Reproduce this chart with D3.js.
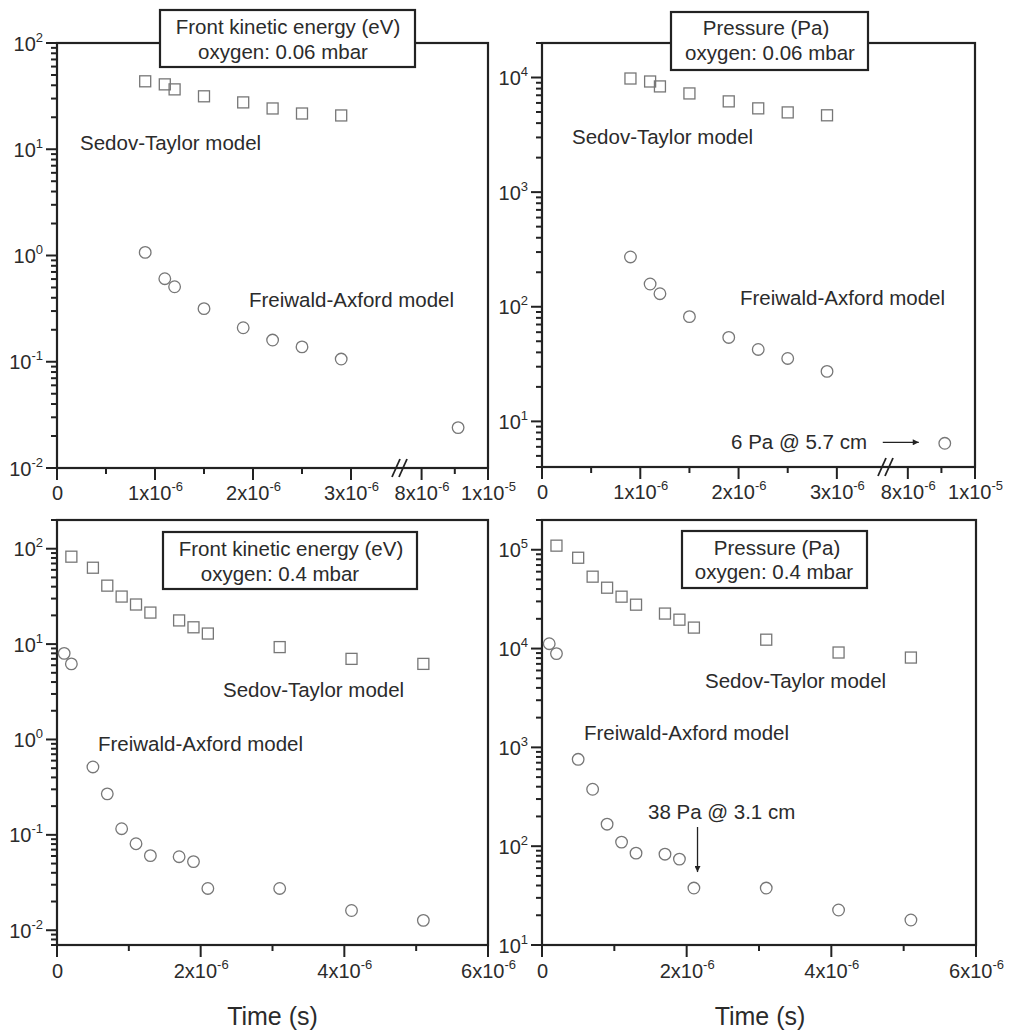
<!DOCTYPE html>
<html>
<head>
<meta charset="utf-8">
<script src="https://cdnjs.cloudflare.com/ajax/libs/d3/7.8.5/d3.min.js"></script>
<style>
body { margin: 0; background: #fff; }
svg text { font-family: "Liberation Sans", Arial, sans-serif; fill: #2b2b2b; }
</style>
</head>
<body>
<svg width="1013" height="1031"></svg>
<script>
var svg = d3.select('svg');

// time values in units of 1e-6 s
var tTopST = [0.9, 1.1, 1.2, 1.5, 1.9, 2.2, 2.5, 2.9];
var tTopFA = [0.9, 1.1, 1.2, 1.5, 1.9, 2.2, 2.5, 2.9, 9.1];
var tBotST = [0.2, 0.5, 0.7, 0.9, 1.1, 1.3, 1.7, 1.9, 2.1, 3.1, 4.1, 5.1];
var tBotFA = [0.1, 0.2, 0.5, 0.7, 0.9, 1.1, 1.3, 1.7, 1.9, 2.1, 3.1, 4.1, 5.1];

// front kinetic energy (eV)
var keTopST = [43.6, 40.8, 36.6, 31.5, 27.6, 24.2, 21.7, 20.8];
var keTopFA = [1.07, 0.605, 0.508, 0.316, 0.209, 0.16, 0.138, 0.106, 0.024];
var keBotST = [82.5, 63.2, 41, 31.5, 26, 21.4, 17.7, 15, 12.9, 9.3, 7.0, 6.2];
var keBotFA = [8.0, 6.2, 0.515, 0.269, 0.116, 0.0807, 0.0605, 0.059, 0.0524, 0.0274, 0.0274, 0.0161, 0.0127];

// pressure (Pa)
var pTopST = [9800, 9230, 8360, 7260, 6190, 5380, 4960, 4680];
var pTopFA = [272, 158, 130, 82, 54, 42.4, 35.4, 27.3, 6.44];
var pBotST = [110000, 83000, 53400, 41300, 33500, 27800, 22600, 19600, 16300, 12300, 9120, 8110];
var pBotFA = [11200, 8890, 757, 377, 167, 110, 85, 83, 74, 37.7, 37.7, 22.6, 17.9];

var titleKE = 'Front kinetic energy (eV)';
var titleP = 'Pressure (Pa)';

var markColor = '#777';
var lineColor = '#222';

svg.append('defs').append('marker')
    .attr('id', 'arrow')
    .attr('viewBox', '0 0 10 10')
    .attr('refX', 10).attr('refY', 5)
    .attr('markerWidth', 9).attr('markerHeight', 6)
    .attr('markerUnits', 'userSpaceOnUse')
    .attr('orient', 'auto')
  .append('path')
    .attr('d', 'M0,0 L10,5 L0,10 z')
    .attr('fill', '#222');

var panels = [
  { left: 57, right: 488, top: 43, bottom: 468, brk: 400,
    yDomain: [0.01, 100], yMajors: [-2, -1, 0, 1, 2],
    st: [tTopST, keTopST], fa: [tTopFA, keTopFA],
    box: [160, 10, 255, 57], lines: [[titleKE, 288, 34], ['oxygen: 0.06 mbar', 283, 59]],
    stLabel: [80, 150], faLabel: [249, 307] },
  { left: 542, right: 975, top: 43, bottom: 467, brk: 886,
    yDomain: [4, 20000], yMajors: [1, 2, 3, 4],
    st: [tTopST, pTopST], fa: [tTopFA, pTopFA],
    box: [671, 12, 197, 58], lines: [[titleP, 766, 35], ['oxygen: 0.06 mbar', 770, 60]],
    stLabel: [572, 144], faLabel: [740, 305] },
  { left: 57, right: 488, top: 520, bottom: 945, brk: null,
    yDomain: [0.007, 200], yMajors: [-2, -1, 0, 1, 2],
    st: [tBotST, keBotST], fa: [tBotFA, keBotFA],
    box: [163, 532, 254, 57], lines: [[titleKE, 291, 556], ['oxygen: 0.4 mbar', 280, 581]],
    stLabel: [223, 697], faLabel: [98, 751] },
  { left: 542, right: 976, top: 520, bottom: 945, brk: null,
    yDomain: [10, 200000], yMajors: [1, 2, 3, 4, 5],
    st: [tBotST, pBotST], fa: [tBotFA, pBotFA],
    box: [682, 531, 185, 57], lines: [[titleP, 777, 555], ['oxygen: 0.4 mbar', 774, 579]],
    stLabel: [705, 688], faLabel: [584, 740] }
];

// label with a superscript part
function supText(sel, base, sup) {
    sel.text(null);
    sel.append('tspan').text(base);
    if (sup) sel.append('tspan').attr('dy', -9).attr('font-size', 13).text(sup);
}

function xLabel(v) {
    if (v == 0) return ['0', null];
    if (v == 10) return ['1x10', '-5'];
    return [v + 'x10', '-6'];
}

// tick marks drawn as plain lines from a scale
function xTicks(g, scale, vals, y0, len) {
    g.selectAll(null)
        .data(vals)
        .enter().append('line')
        .attr('x1', function(d) { return scale(d); })
        .attr('x2', function(d) { return scale(d); })
        .attr('y1', y0).attr('y2', y0 + len)
        .attr('stroke', lineColor).attr('stroke-width', 2);
}
function yTicks(g, scale, vals, x0, len) {
    g.selectAll(null)
        .data(vals)
        .enter().append('line')
        .attr('y1', function(d) { return scale(d); })
        .attr('y2', function(d) { return scale(d); })
        .attr('x1', x0).attr('x2', x0 - len)
        .attr('stroke', lineColor).attr('stroke-width', 2);
}

panels.forEach(function(p, pi) {
    var g = svg.append('g');

    var y = d3.scaleLog().domain(p.yDomain).range([p.bottom, p.top]);

    // x scale: broken for the top row
    var x, segs;
    if (p.brk) {
        var s1 = d3.scaleLinear().domain([0, 3.5]).range([p.left, p.brk]);
        var s2 = d3.scaleLinear().domain([7.35, 10]).range([p.brk, p.right]);
        x = function(t) { return t < 5 ? s1(t) : s2(t); };
        segs = [{ s: s1, major: [0, 1, 2, 3], minor: [0.5, 1.5, 2.5] },
                { s: s2, major: [8, 10], minor: [9] }];
    } else {
        var s0 = d3.scaleLinear().domain([0, 6]).range([p.left, p.right]);
        x = s0;
        segs = [{ s: s0, major: [0, 2, 4, 6], minor: [1, 3, 5] }];
    }

    // x axes: tick marks + labels
    segs.forEach(function(sg) {
        xTicks(g, sg.s, sg.minor, p.bottom, 6);
        xTicks(g, sg.s, sg.major, p.bottom, 12);
        var labG = g.append('g')
            .attr('transform', 'translate(0,' + p.bottom + ')')
            .call(d3.axisBottom(sg.s).tickValues(sg.major).tickSize(0));
        labG.select('.domain').remove();
        labG.selectAll('.tick line').remove();
        labG.selectAll('.tick text')
            .attr('font-size', 20)
            .attr('y', pi < 2 ? 32 : 33).attr('dy', 0)
            .style('fill', '#2b2b2b')
            .each(function(v) {
                var l = xLabel(v);
                supText(d3.select(this), l[0], l[1]);
            });
    });

    // y axis: minor ticks at 2..9 of each decade
    var minors = [];
    for (var e = -3; e <= 6; e++) {
        for (var m = 2; m <= 9; m++) {
            var v = m * Math.pow(10, e);
            if (v >= p.yDomain[0] && v <= p.yDomain[1]) minors.push(v);
        }
    }
    var majors = p.yMajors.map(function(k) { return Math.pow(10, k); });
    yTicks(g, y, minors, p.left, 6);
    yTicks(g, y, majors, p.left, 11);
    var yLabG = g.append('g')
        .attr('transform', 'translate(' + p.left + ',0)')
        .call(d3.axisLeft(y).tickValues(majors).tickSize(0));
    yLabG.select('.domain').remove();
    yLabG.selectAll('.tick line').remove();
    yLabG.selectAll('.tick text')
        .attr('font-size', 20)
        .attr('x', -14).attr('dy', 7)
        .style('fill', '#2b2b2b')
        .each(function(v) {
            supText(d3.select(this), '10', String(Math.round(Math.log10(v))));
        });

    // frame
    g.append('rect')
        .attr('x', p.left).attr('y', p.top)
        .attr('width', p.right - p.left).attr('height', p.bottom - p.top)
        .attr('fill', 'none').attr('stroke', lineColor).attr('stroke-width', 2.2);

    // axis break marks
    if (p.brk) {
        [-4, 3].forEach(function(d) {
            g.append('line')
                .attr('x1', p.brk + d - 4).attr('y1', p.bottom + 9)
                .attr('x2', p.brk + d + 4).attr('y2', p.bottom - 9)
                .attr('stroke', lineColor).attr('stroke-width', 1.8);
        });
    }

    // Sedov-Taylor squares
    g.selectAll('.sq')
        .data(p.st[0])
        .enter().append('rect')
        .attr('class', 'sq')
        .attr('x', function(d) { return x(d) - 5.5; })
        .attr('y', function(d, i) { return y(p.st[1][i]) - 5.5; })
        .attr('width', 11).attr('height', 11)
        .attr('fill', 'none').attr('stroke', markColor).attr('stroke-width', 1.3);

    // Freiwald-Axford circles
    g.selectAll('.ci')
        .data(p.fa[0])
        .enter().append('circle')
        .attr('class', 'ci')
        .attr('cx', function(d) { return x(d); })
        .attr('cy', function(d, i) { return y(p.fa[1][i]); })
        .attr('r', 5.8)
        .attr('fill', 'none').attr('stroke', markColor).attr('stroke-width', 1.3);

    // title box
    g.append('rect')
        .attr('x', p.box[0]).attr('y', p.box[1])
        .attr('width', p.box[2]).attr('height', p.box[3])
        .attr('fill', '#fff').attr('stroke', lineColor).attr('stroke-width', 2.2);
    p.lines.forEach(function(l) {
        g.append('text')
            .attr('x', l[1]).attr('y', l[2])
            .attr('text-anchor', 'middle')
            .attr('font-size', 20.5)
            .text(l[0]);
    });

    g.append('text')
        .attr('x', p.stLabel[0]).attr('y', p.stLabel[1])
        .attr('font-size', 20.5)
        .text('Sedov-Taylor model');
    g.append('text')
        .attr('x', p.faLabel[0]).attr('y', p.faLabel[1])
        .attr('font-size', 20.5)
        .text('Freiwald-Axford model');

    if (pi == 1) {
        var lx = x(9.1), ly = y(6.44);
        g.append('text')
            .attr('x', 867).attr('y', ly + 6)
            .attr('text-anchor', 'end')
            .attr('font-size', 20.5)
            .text('6 Pa @ 5.7 cm');
        g.append('line')
            .attr('x1', lx - 62).attr('y1', ly - 1)
            .attr('x2', lx - 26).attr('y2', ly - 1)
            .attr('stroke', '#222').attr('stroke-width', 1.3)
            .attr('marker-end', 'url(#arrow)');
    }
    if (pi == 3) {
        var ax = x(2.15), ay = y(37.7);
        g.append('text')
            .attr('x', 648).attr('y', 819)
            .attr('font-size', 20.5)
            .text('38 Pa @ 3.1 cm');
        g.append('line')
            .attr('x1', ax).attr('y1', 827)
            .attr('x2', ax).attr('y2', ay - 16)
            .attr('stroke', '#222').attr('stroke-width', 1.3)
            .attr('marker-end', 'url(#arrow)');
    }

    if (pi >= 2) {
        g.append('text')
            .attr('x', (p.left + p.right) / 2 + (pi == 2 ? 0 : 1))
            .attr('y', 1025)
            .attr('text-anchor', 'middle')
            .attr('font-size', 25)
            .text('Time (s)');
    }
});
</script>
</body>
</html>
